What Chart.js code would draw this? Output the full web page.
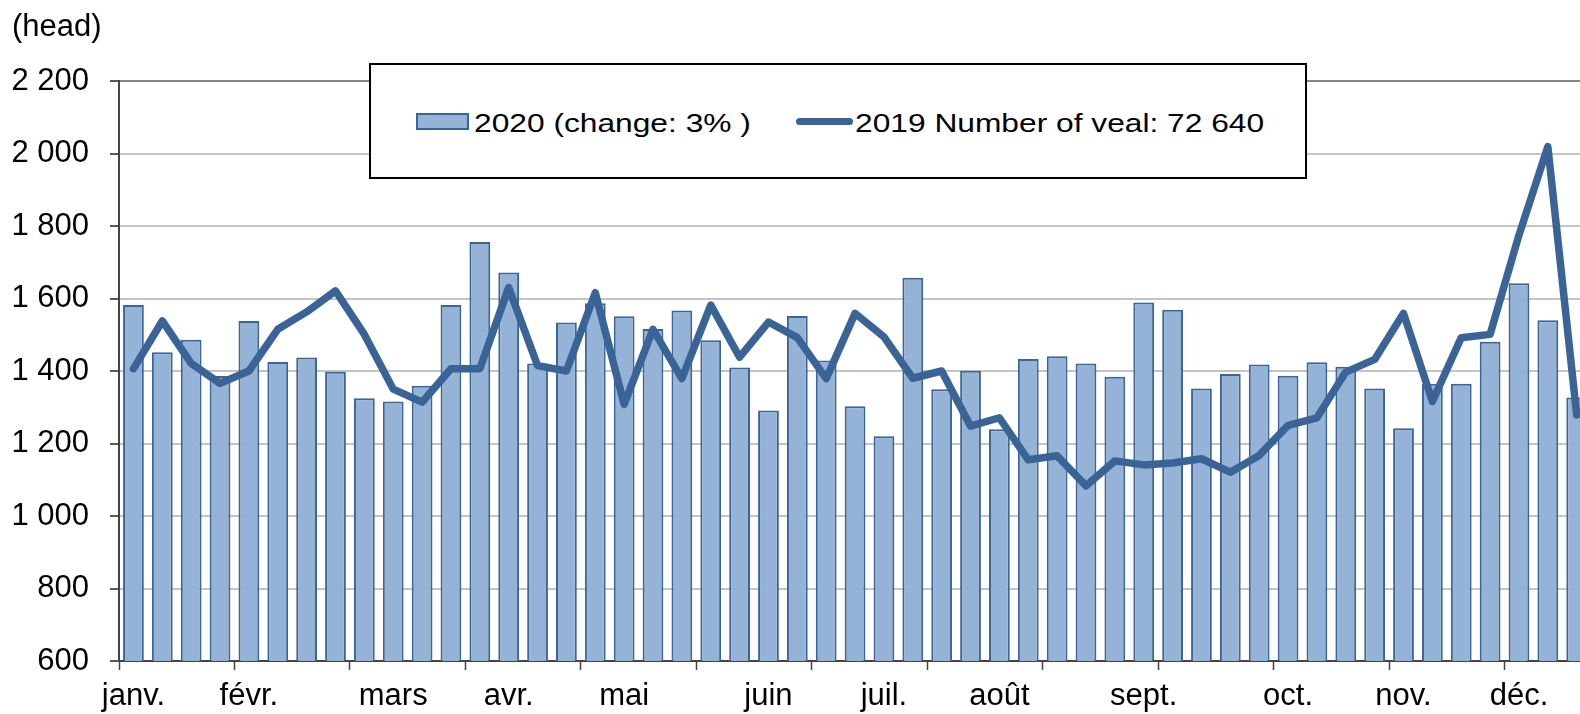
<!DOCTYPE html>
<html>
<head>
<meta charset="utf-8">
<script src="https://cdn.jsdelivr.net/npm/chart.js@4.4.1/dist/chart.umd.min.js"></script>
<style>
  html, body { margin: 0; padding: 0; background: #fff; overflow: hidden; width: 1580px; height: 714px; }
  #wrap { position: absolute; left: 0; top: 0; width: 1629px; height: 714px; }
  .lg { position: absolute; font-family: 'Liberation Sans', Arial, sans-serif; color: #000; }
  #lgbox { left: 369px; top: 63px; width: 938px; height: 116px; border: 2px solid #000; background: #fff; box-sizing: border-box; }
  #sw1 { left: 416px; top: 113px; width: 53px; height: 17px; background: #95B3D7; border: 2px solid #3B6597; box-sizing: border-box; }
  #sw2 { left: 796px; top: 118px; width: 57px; height: 7px; background: #3B6496; border-radius: 3.5px; }
  .lt { font-size: 26px; line-height: 26px; top: 110px; white-space: nowrap; transform: scaleX(1.22); transform-origin: 0 0; }
  #t1 { left: 474px; }
  #t2 { left: 855px; }
</style>
</head>
<body>
<div id="wrap"><canvas id="c"></canvas></div>
<div class="lg" id="lgbox"></div>
<div class="lg" id="sw1"></div>
<div class="lg lt" id="t1">2020 (change: 3% )</div>
<div class="lg" id="sw2"></div>
<div class="lg lt" id="t2">2019 Number of veal: 72 640</div>
<script>
// Week categories (52 weeks); month names shown at first week of each month
const monthLabels = ['janv.', 'févr.', 'mars', 'avr.', 'mai', 'juin', 'juil.', 'août', 'sept.', 'oct.', 'nov.', 'déc.'];
const monthWeekIndex = [0, 4, 9, 13, 17, 22, 26, 30, 35, 40, 44, 48];

// 2020 weekly number of veal (bars)
const series2020 = [1582, 1452, 1486, 1386, 1538, 1425, 1437, 1398, 1325, 1316, 1359, 1582, 1756, 1672, 1421, 1534,
  1587, 1551, 1516, 1567, 1485, 1410, 1291, 1552, 1429, 1303, 1220, 1657, 1350, 1401, 1239, 1433,
  1441, 1421, 1384, 1589, 1569, 1352, 1392, 1418, 1387, 1424, 1412, 1352, 1242, 1365, 1365, 1481,
  1642, 1540, 1327, null];

// 2019 weekly number of veal (line)
const series2019 = [1406, 1538, 1421, 1366, 1400, 1515, 1563, 1621, 1501, 1350, 1314, 1406, 1406, 1630, 1415, 1400,
  1616, 1308, 1515, 1379, 1582, 1438, 1535, 1492, 1379, 1559, 1494, 1380, 1400, 1248, 1271, 1155,
  1166, 1083, 1152, 1141, 1146, 1158, 1121, 1167, 1250, 1271, 1397, 1432, 1559, 1316, 1492, 1501,
  1775, 2019, 1279, null];

const yTicks = [600, 800, 1000, 1200, 1400, 1600, 1800, 2000, 2200];
const unitLabel = '(head)';
const legend2020 = '2020 (change: 3% )';
const legend2019 = '2019 Number of veal: 72 640';

const categories = series2020.map((_, i) => {
  const k = monthWeekIndex.indexOf(i);
  return k >= 0 ? monthLabels[k] : '';
});

const FONT = "'Liberation Sans', Arial, sans-serif";
Chart.defaults.font.family = FONT;
Chart.defaults.color = '#000';

const unitPlugin = {
  id: 'unitLabel',
  afterDraw(chart) {
    const ctx = chart.ctx;
    ctx.save();
    ctx.font = '31px ' + FONT;
    ctx.fillStyle = '#000';
    ctx.textAlign = 'left';
    ctx.textBaseline = 'alphabetic';
    ctx.fillText(unitLabel, 12, 36);
    ctx.restore();
  }
};

const fmt = v => {
  const s = String(v);
  return s.length > 3 ? s.slice(0, s.length - 3) + ' ' + s.slice(-3) : s;
};

new Chart(document.getElementById('c'), {
  data: {
    labels: categories,
    datasets: [
      {
        type: 'line',
        label: legend2019,
        data: series2019,
        borderColor: '#3B6496',
        backgroundColor: '#3B6496',
        borderWidth: 7.5,
        borderJoinStyle: 'round',
        borderCapStyle: 'round',
        pointRadius: 0,
        tension: 0,
        order: 0
      },
      {
        type: 'bar',
        label: legend2020,
        data: series2020,
        backgroundColor: '#95B3D7',
        borderColor: '#3B6597',
        borderWidth: 2,
        categoryPercentage: 1,
        barPercentage: 0.72,
        order: 1
      }
    ]
  },
  options: {
    responsive: true,
    maintainAspectRatio: false,
    animation: false,
    layout: { padding: { left: 0, right: 9, top: 81, bottom: 0 } },
    plugins: {
      legend: { display: false },
      tooltip: { enabled: false },
      title: { display: false }
    },
    scales: {
      x: {
        type: 'category',
        offset: true,
        grid: {
          offset: true,
          drawOnChartArea: false,
          drawTicks: true,
          tickLength: 9,
          tickWidth: 1.5,
          tickColor: ctx => (ctx.index % 4 === 0 ? '#444' : 'rgba(0,0,0,0)'),
          color: 'rgba(0,0,0,0)'
        },
        border: { display: true, color: '#444', width: 2 },
        ticks: {
          autoSkip: false,
          maxRotation: 0,
          minRotation: 0,
          padding: 8,
          font: { size: 31 },
          color: '#000'
        },
        afterFit(scale) { scale.height = 53; }
      },
      y: {
        min: 600,
        max: 2200,
        afterBuildTicks(scale) { scale.ticks = yTicks.map(v => ({ value: v })); },
        grid: {
          color: ctx => (ctx.tick && ctx.tick.value === 2200 ? '#868686' : (ctx.tick && ctx.tick.value === 600 ? 'rgba(0,0,0,0)' : '#C4C4C4')),
          lineWidth: 2,
          tickLength: 9,
          tickWidth: 1.5,
          tickColor: '#222'
        },
        border: { display: true, color: '#444', width: 2 },
        ticks: {
          padding: 21,
          font: { size: 31 },
          color: '#000',
          callback: v => fmt(v)
        },
        afterFit(scale) { scale.width = 119; }
      }
    }
  },
  plugins: [unitPlugin]
});
</script>
</body>
</html>
